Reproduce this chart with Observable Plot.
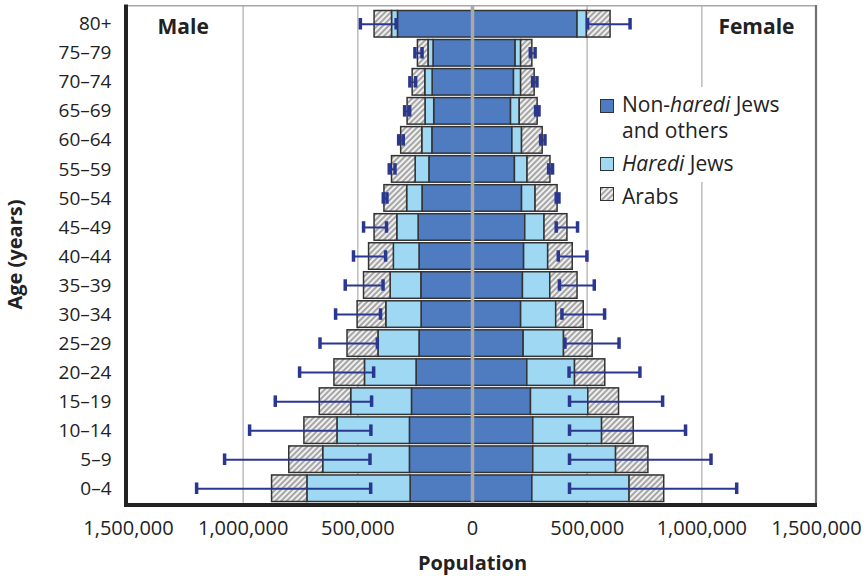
<!DOCTYPE html>
<html>
<head>
<meta charset="utf-8">
<script src="https://cdn.jsdelivr.net/npm/d3@7"></script>
<script src="https://cdn.jsdelivr.net/npm/@observablehq/plot@0.6"></script>
<style>
  html, body { margin: 0; padding: 0; background: #fff; }
  #wrap { position: relative; width: 868px; height: 576px; font-family: "Open Sans", sans-serif; color: #222; }
  #wrap svg.plot { position: absolute; left: 0; top: 0; }
  .legend-bg { position: absolute; left: 592px; top: 87px; width: 222px; height: 95px; background: #fff; }
  .legend-row { position: absolute; left: 600px; font-size: 21px; line-height: 21px; white-space: nowrap; }
  .legend-row .sw { position: absolute; left: 0; width: 12px; height: 12px; border: 1.5px solid #333; }
  .legend-row .tx { position: absolute; left: 22px; top: 0; }
</style>
</head>
<body>
<div id="wrap"></div>
<script>
// Age groups, oldest at the top
const ages = ["80+", "75–79", "70–74", "65–69", "60–64", "55–59", "50–54", "45–49", "40–44",
              "35–39", "30–34", "25–29", "20–24", "15–19", "10–14", "5–9", "0–4"];

// Population groups, from the centre outward
const groups = ["Non-haredi Jews and others", "Haredi Jews", "Arabs"];

// Population by age group (thousands)
const maleNonHaredi   = [325, 170, 174, 167, 175, 188, 218, 235, 231, 223, 222, 231, 244, 264, 273, 273, 270];
const maleHaredi      = [ 26,  22,  32,  38,  44,  60,  67,  93, 112, 134, 154, 179, 225, 265, 316, 378, 450];
const maleArabs       = [ 76,  46,  55,  78,  92, 103,  99,  99, 108, 116, 125, 135, 133, 137, 144, 148, 154];
const femaleNonHaredi = [458, 188, 181, 168, 174, 185, 216, 230, 225, 220, 212, 223, 239, 255, 265, 265, 261];
const femaleHaredi    = [ 41,  24,  31,  38,  42,  55,  59,  84, 105, 119, 153, 176, 208, 250, 300, 361, 424];
const femaleArabs     = [103,  49,  59,  78,  90, 100,  96, 100, 107, 119, 120, 125, 132, 134, 138, 141, 151];

// Range bars (thousands)
const maleRangeLow    = [333, 220, 248, 274, 302, 338, 373, 375, 379, 390, 401, 415, 431, 440, 443, 447, 444];
const maleRangeHigh   = [489, 251, 273, 296, 322, 363, 389, 475, 519, 555, 597, 665, 754, 860, 972, 1081, 1203];
const femaleRangeLow  = [502, 252, 262, 275, 297, 332, 365, 365, 374, 379, 390, 403, 421, 423, 423, 423, 423];
const femaleRangeHigh = [687, 273, 281, 290, 316, 349, 377, 458, 499, 531, 576, 639, 730, 829, 929, 1040, 1152];

// Tick values on the population axis
const xTicks = [-1500000, -1000000, -500000, 0, 500000, 1000000, 1500000];
const gridTicks = [-1000000, -500000, 500000, 1000000];

const K = 1000;
const maleSeries = [maleNonHaredi, maleHaredi, maleArabs];
const femaleSeries = [femaleNonHaredi, femaleHaredi, femaleArabs];

// Long table: males to the left (negative), females to the right
const bars = [];
ages.forEach((age, i) => {
  groups.forEach((group, j) => {
    bars.push({age, sex: "Male", group, value: -maleSeries[j][i] * K});
    bars.push({age, sex: "Female", group, value: femaleSeries[j][i] * K});
  });
});

const ranges = [];
ages.forEach((age, i) => {
  ranges.push({age, lo: -maleRangeLow[i] * K, hi: -maleRangeHigh[i] * K});
  ranges.push({age, lo: femaleRangeLow[i] * K, hi: femaleRangeHigh[i] * K});
});

const navy = "#2a3790";
const font = "Open Sans, sans-serif";

// Diagonal hatch used for the Arab population
function hatchDefs() {
  const defs = d3.create("svg:defs");
  const p = defs.append("pattern")
    .attr("id", "hatch")
    .attr("patternUnits", "userSpaceOnUse")
    .attr("width", 4).attr("height", 4)
    .attr("patternTransform", "rotate(45)");
  p.append("rect").attr("width", 4).attr("height", 4).attr("fill", "#f0f0f0");
  p.append("rect").attr("width", 2).attr("height", 4).attr("fill", "#a6a6a6");
  return defs.node();
}

// Chart border: heavy left and bottom edges, light top and right
function border(index, scales, values, dim) {
  const {width, height, marginTop, marginRight, marginBottom, marginLeft} = dim;
  const x0 = marginLeft, x1 = width - marginRight, y0 = marginTop, y1 = height - marginBottom;
  const g = d3.create("svg:g").attr("fill", "none");
  g.append("line").attr("x1", x0).attr("x2", x1).attr("y1", y0 + 0.75).attr("y2", y0 + 0.75)
    .attr("stroke", "#a8a8a8").attr("stroke-width", 1.5);
  g.append("line").attr("x1", x1).attr("x2", x1).attr("y1", y0).attr("y2", y1)
    .attr("stroke", "#707070").attr("stroke-width", 2.2);
  g.append("line").attr("x1", x0 - 2).attr("x2", x0 - 2).attr("y1", y0 - 0.5).attr("y2", y1 + 4)
    .attr("stroke", "#222").attr("stroke-width", 4);
  g.append("line").attr("x1", x0 - 4).attr("x2", x1 + 1).attr("y1", y1 + 2).attr("y2", y1 + 2)
    .attr("stroke", "#222").attr("stroke-width", 4);
  return g.node();
}

const chart = Plot.plot({
  width: 868,
  height: 576,
  marginTop: 5,
  marginLeft: 128,
  marginRight: 52,
  marginBottom: 73,
  style: {fontFamily: font, color: "#222", background: "transparent"},
  x: {domain: [-1500000, 1500000]},
  y: {domain: ages, range: [8, 504], padding: 0.086, round: false},
  color: {type: "ordinal", domain: groups, range: ["#4f7bc1", "#9fd8f3", "url(#hatch)"]},
  marks: [
    hatchDefs,
    Plot.gridX(gridTicks, {stroke: "#bdbdbd", strokeOpacity: 1, strokeWidth: 1.5}),
    Plot.barX(bars, {
      x: "value", y: "age", fill: "group", z: "group", order: groups,
      stroke: "#333", strokeWidth: 1.5
    }),
    Plot.ruleX([0], {stroke: "#a9a9a9", strokeWidth: 3.5}),
    Plot.ruleY(ranges, {y: "age", x1: "lo", x2: "hi", stroke: navy, strokeWidth: 2}),
    Plot.tickX(ranges, {x: "lo", y: "age", stroke: navy, strokeWidth: 3.5, insetTop: 7.5, insetBottom: 7.5}),
    Plot.tickX(ranges, {x: "hi", y: "age", stroke: navy, strokeWidth: 3.5, insetTop: 7.5, insetBottom: 7.5}),
    border,
    Plot.axisX(xTicks, {
      tickSize: 0, tickPadding: 17, fontSize: 20, label: null,
      tickFormat: d => d3.format(",")(Math.abs(d))
    }),
    Plot.axisY({tickSize: 0, tickPadding: 17, fontSize: 19, label: null}),
    Plot.text(["Male"], {frameAnchor: "top-left", dx: 29, dy: 14, textAnchor: "start", lineAnchor: "top",
      fontSize: 21, fontWeight: "bold", fill: "#222"}),
    Plot.text(["Female"], {frameAnchor: "top-right", dx: -22, dy: 14, textAnchor: "end", lineAnchor: "top",
      fontSize: 21, fontWeight: "bold", fill: "#222"}),
    Plot.text(["Population"], {frameAnchor: "bottom", dy: 60, lineAnchor: "middle",
      fontSize: 20, fontWeight: "bold", fill: "#222"}),
    Plot.text(["Age (years)"], {frameAnchor: "left", dx: -113, rotate: -90,
      textAnchor: "middle", lineAnchor: "middle",
      fontSize: 20, fontWeight: "bold", fill: "#222"})
  ]
});
chart.classList.add("plot");

const wrap = document.getElementById("wrap");
wrap.appendChild(chart);

// Legend, placed inside the plot area on the right
const legendBg = document.createElement("div");
legendBg.className = "legend-bg";
wrap.appendChild(legendBg);

const legendItems = [
  {top: 94, swTop: 5, fill: "#4f7bc1", html: "Non-<i>haredi</i> Jews"},
  {top: 120, html: "and others"},
  {top: 153, swTop: 4, fill: "#9fd8f3", html: "<i>Haredi</i> Jews"},
  {top: 186, swTop: 1, fill: "url(#hatch)", html: "Arabs"}
];
for (const item of legendItems) {
  const row = document.createElement("div");
  row.className = "legend-row";
  row.style.top = item.top + "px";
  if (item.fill) {
    const sw = document.createElementNS("http://www.w3.org/2000/svg", "svg");
    sw.setAttribute("class", "sw");
    sw.setAttribute("width", 12);
    sw.setAttribute("height", 12);
    sw.style.top = item.swTop + "px";
    sw.style.overflow = "visible";
    const r = document.createElementNS("http://www.w3.org/2000/svg", "rect");
    r.setAttribute("width", 12);
    r.setAttribute("height", 12);
    r.setAttribute("fill", item.fill);
    sw.appendChild(r);
    row.appendChild(sw);
  }
  const tx = document.createElement("span");
  tx.className = "tx";
  tx.innerHTML = item.html;
  row.appendChild(tx);
  wrap.appendChild(row);
}
</script>
</body>
</html>
